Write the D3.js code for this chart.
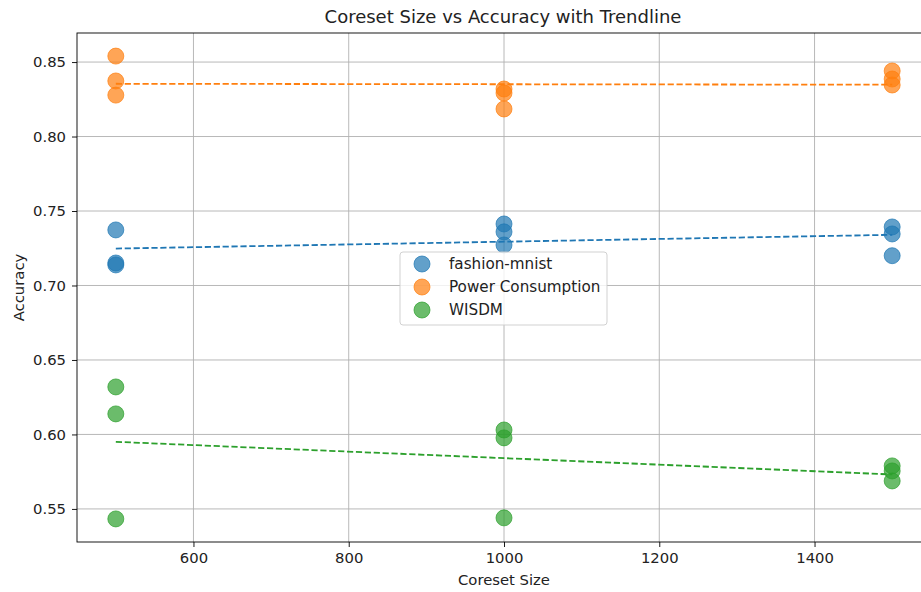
<!DOCTYPE html>
<html>
<head>
<meta charset="utf-8">
<script src="https://cdn.jsdelivr.net/npm/d3@7"></script>
<style>
  body { margin: 0; background: #fff; }
  svg { font-family: "DejaVu Sans", sans-serif; }
</style>
</head>
<body>
<div class="chart"></div>
<script>
// data
var coresetSizes = [500, 500, 500, 1000, 1000, 1000, 1500, 1500, 1500];
var fashionAcc = [0.7373, 0.7151, 0.7138, 0.7413, 0.7360, 0.7272, 0.7393, 0.7346, 0.7200];
var powerAcc = [0.8540, 0.8373, 0.8278, 0.8319, 0.8292, 0.8185, 0.8440, 0.8386, 0.8346];
var wisdmAcc = [0.6319, 0.6138, 0.5433, 0.6030, 0.5977, 0.5440, 0.5789, 0.5755, 0.5688];
var seriesNames = ["fashion-mnist", "Power Consumption", "WISDM"];
var seriesColors = ["#1f77b4", "#ff7f0e", "#2ca02c"];
var xTicks = [600, 800, 1000, 1200, 1400];
var yTicks = [0.55, 0.60, 0.65, 0.70, 0.75, 0.80, 0.85];

var width = 921, height = 592;
var pLeft = 77, pRight = 931, pTop = 33, pBottom = 542;
var fs = 14.8;

var svg = d3.select(".chart")
  .append("svg")
  .attr("width", width)
  .attr("height", height);

var x = d3.scaleLinear().domain([450, 1550]).range([pLeft, pRight]);
var y = d3.scaleLinear().domain([0.5278, 0.8695]).range([pBottom, pTop]);

// grid
svg.append("g")
  .selectAll("line")
  .data(xTicks)
  .enter().append("line")
  .attr("x1", d => x(d)).attr("x2", d => x(d))
  .attr("y1", pTop).attr("y2", pBottom)
  .attr("stroke", "#b0b0b0").attr("stroke-width", 0.9);
svg.append("g")
  .selectAll("line")
  .data(yTicks)
  .enter().append("line")
  .attr("x1", pLeft).attr("x2", pRight)
  .attr("y1", d => y(d)).attr("y2", d => y(d))
  .attr("stroke", "#b0b0b0").attr("stroke-width", 0.9);

// axes
var xAxis = svg.append("g")
  .attr("transform", "translate(0," + pBottom + ")")
  .call(d3.axisBottom(x).tickValues(xTicks).tickSize(5).tickPadding(5).tickFormat(d3.format("d")));
var yAxis = svg.append("g")
  .attr("transform", "translate(" + pLeft + ",0)")
  .call(d3.axisLeft(y).tickValues(yTicks).tickSize(5).tickPadding(6).tickFormat(d3.format(".2f")));
[xAxis, yAxis].forEach(function(a) {
  a.select(".domain").remove();
  a.selectAll("text").attr("font-size", fs).attr("fill", "#222").attr("font-family", "DejaVu Sans");
  a.selectAll("line").attr("stroke", "#000").attr("stroke-width", 0.9);
});

// spines
svg.append("rect")
  .attr("x", pLeft).attr("y", pTop)
  .attr("width", pRight - pLeft).attr("height", pBottom - pTop)
  .attr("fill", "none").attr("stroke", "#000").attr("stroke-width", 0.9);

var allSeries = [fashionAcc, powerAcc, wisdmAcc];

// least squares trend
function fit(xs, ys) {
  var mx = d3.mean(xs), my = d3.mean(ys);
  var num = d3.sum(xs, (v, i) => (v - mx) * (ys[i] - my));
  var den = d3.sum(xs, v => (v - mx) * (v - mx));
  var b = num / den;
  return function(v) { return my + b * (v - mx); };
}

var plot = svg.append("g");
allSeries.forEach(function(vals, i) {
  plot.append("g").selectAll("circle")
    .data(vals)
    .enter().append("circle")
    .attr("cx", (d, j) => x(coresetSizes[j]))
    .attr("cy", d => y(d))
    .attr("r", 8)
    .attr("fill", seriesColors[i])
    .attr("fill-opacity", 0.7)
    .attr("stroke", seriesColors[i])
    .attr("stroke-opacity", 0.7)
    .attr("stroke-width", 1);
  var f = fit(coresetSizes, vals);
  var ends = d3.extent(coresetSizes);
  plot.append("path")
    .datum(ends)
    .attr("d", d3.line().x(d => x(d)).y(d => y(f(d))))
    .attr("fill", "none")
    .attr("stroke", seriesColors[i])
    .attr("stroke-width", 1.8)
    .attr("stroke-dasharray", "6.2,2.7");
});

// legend
var lg = svg.append("g").attr("transform", "translate(400,252)");
lg.append("rect")
  .attr("width", 207).attr("height", 73)
  .attr("rx", 3)
  .attr("fill", "#fff").attr("fill-opacity", 0.8)
  .attr("stroke", "#cccccc").attr("stroke-width", 0.9);
seriesNames.forEach(function(n, i) {
  lg.append("circle")
    .attr("cx", 22).attr("cy", 12 + i * 23)
    .attr("r", 8)
    .attr("fill", seriesColors[i]).attr("fill-opacity", 0.7)
    .attr("stroke", seriesColors[i]).attr("stroke-opacity", 0.7);
  lg.append("text")
    .attr("x", 49).attr("y", 12 + i * 23)
    .attr("dy", "0.35em")
    .attr("font-size", 15.2).attr("fill", "#222")
    .text(n);
});

// titles
svg.append("text")
  .attr("x", 503).attr("y", 23)
  .attr("text-anchor", "middle")
  .attr("font-size", 18).attr("fill", "#222")
  .text("Coreset Size vs Accuracy with Trendline");
svg.append("text")
  .attr("x", x(1000)).attr("y", 585)
  .attr("text-anchor", "middle")
  .attr("font-size", fs).attr("fill", "#222")
  .text("Coreset Size");
svg.append("text")
  .attr("transform", "translate(24," + ((pTop + pBottom) / 2) + ") rotate(-90)")
  .attr("text-anchor", "middle")
  .attr("font-size", fs).attr("fill", "#222")
  .text("Accuracy");
</script>
</body>
</html>
